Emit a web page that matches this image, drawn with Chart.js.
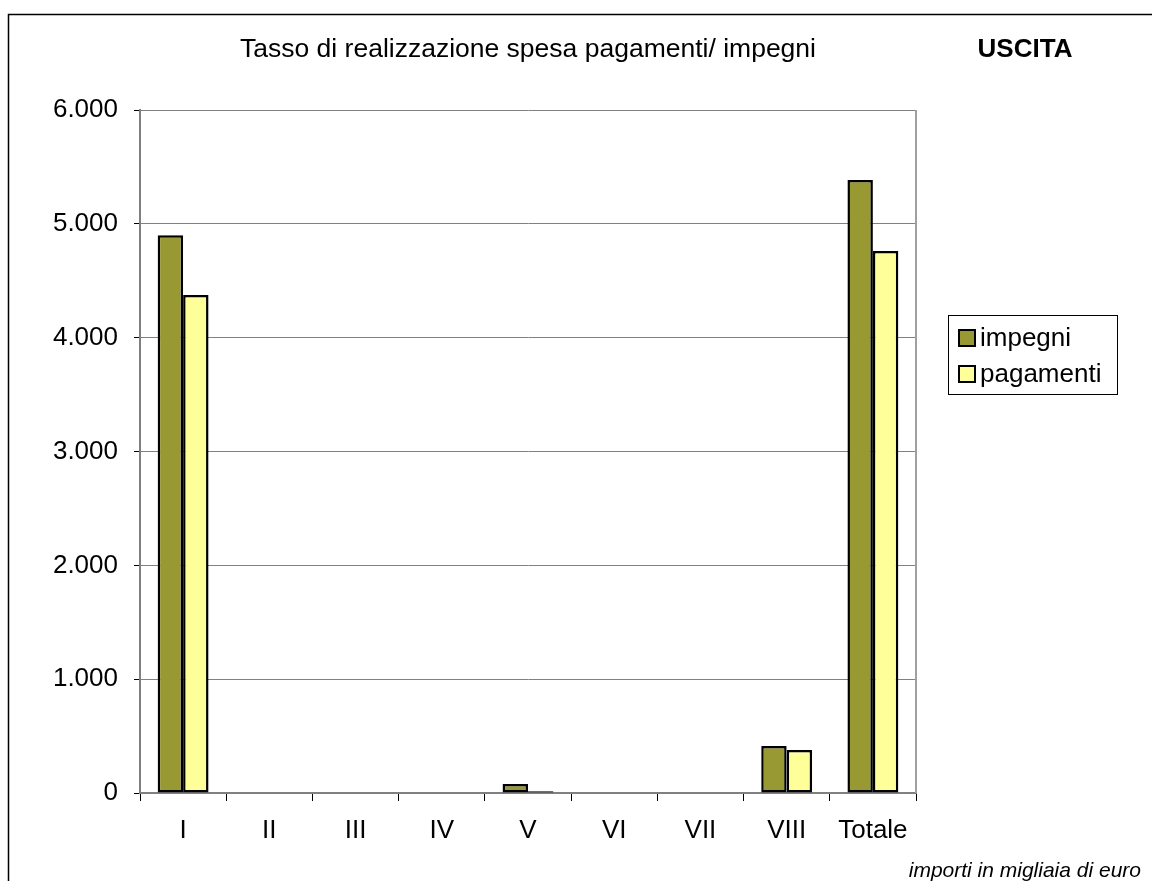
<!DOCTYPE html>
<html>
<head>
<meta charset="utf-8">
<script src="https://cdn.jsdelivr.net/npm/chart.js@4"></script>
<style>
html,body{margin:0;padding:0;background:#fff;}
#wrap{width:1152px;height:881px;position:relative;}
</style>
</head>
<body>
<div id="wrap"><canvas id="c" width="1152" height="881"></canvas></div>
<script>
const categories = ["I","II","III","IV","V","VI","VII","VIII","Totale"];
const impegni    = [4900, 0, 0, 0, 80, 0, 0, 413, 5385];
const pagamenti  = [4375, 0, 0, 0, 15, 0, 0, 378, 4761];
const yTicks     = [0, 1000, 2000, 3000, 4000, 5000, 6000];
const seriesNames = ["impegni", "pagamenti"];
const titleText = "Tasso di realizzazione spesa pagamenti/ impegni";
const sideText = "USCITA";
const noteText = "importi in migliaia di euro";

const FONT = "'Liberation Sans', Arial, sans-serif";

const decor = {
  id: 'decor',
  beforeDraw(chart) {
    const ctx = chart.ctx;
    ctx.save();
    ctx.fillStyle = '#fff';
    ctx.fillRect(0, 0, chart.width, chart.height);
    ctx.restore();
  },
  afterDraw(chart) {
    const ctx = chart.ctx;
    const a = chart.chartArea;
    ctx.save();
    // outer frame
    ctx.strokeStyle = '#000';
    ctx.lineWidth = 1.5;
    ctx.beginPath();
    ctx.moveTo(8.5, 890);
    ctx.lineTo(8.5, 14.5);
    ctx.lineTo(1160, 14.5);
    ctx.stroke();
    // plot right border
    ctx.strokeStyle = '#a0a0a0';
    ctx.lineWidth = 2;
    ctx.beginPath();
    ctx.moveTo(a.right, a.top);
    ctx.lineTo(a.right, a.bottom);
    ctx.stroke();
    // title
    ctx.fillStyle = '#000';
    ctx.textBaseline = 'middle';
    ctx.textAlign = 'center';
    ctx.font = "26.5px " + FONT;
    ctx.fillText(titleText, 528, 50);
    ctx.font = "bold 26px " + FONT;
    ctx.fillText(sideText, 1025, 50);
    // footnote
    ctx.font = "italic 21px " + FONT;
    ctx.textAlign = 'right';
    ctx.fillText(noteText, 1141, 871);
    // legend
    ctx.strokeStyle = '#000';
    ctx.lineWidth = 1;
    ctx.strokeRect(948.5, 315.5, 169, 79);
    ctx.font = "26px " + FONT;
    ctx.textAlign = 'left';
    chart.data.datasets.forEach((ds, i) => {
      const y = 338 + i * 36;
      ctx.fillStyle = ds.backgroundColor;
      ctx.fillRect(959, y - 8, 16, 16);
      ctx.lineWidth = 2;
      ctx.strokeStyle = '#000';
      ctx.strokeRect(959, y - 8, 16, 16);
      ctx.fillStyle = '#000';
      ctx.fillText(ds.label, 980, y + 1);
    });
    ctx.restore();
  }
};

new Chart(document.getElementById('c'), {
  type: 'bar',
  data: {
    labels: categories,
    datasets: [
      { label: seriesNames[0], data: impegni, backgroundColor: '#999933', borderColor: '#000', borderWidth: 2.5, borderSkipped: false },
      { label: seriesNames[1], data: pagamenti, backgroundColor: '#FFFF99', borderColor: '#000', borderWidth: 2.5, borderSkipped: false }
    ]
  },
  options: {
    responsive: false,
    animation: false,
    events: [],
    layout: { padding: { left: 0, top: 110, right: 236, bottom: 0 } },
    plugins: { legend: { display: false }, title: { display: false }, tooltip: { enabled: false } },
    datasets: { bar: { categoryPercentage: 0.59, barPercentage: 1.0 } },
    scales: {
      x: {
        offset: true,
        grid: { offset: true, drawOnChartArea: false, drawTicks: true, tickLength: 8, color: '#000', lineWidth: 1 },
        border: { display: true, color: '#808080', width: 2 },
        ticks: { color: '#000', font: { size: 26, family: FONT }, padding: 14 },
        afterFit(s) { s.height = 88; }
      },
      y: {
        min: 0, max: 6000,
        afterBuildTicks(s) { s.ticks = yTicks.map(v => ({ value: v })); },
        grid: { color: '#808080', lineWidth: 1, drawTicks: true, tickLength: 6, tickColor: '#000' },
        border: { display: true, color: '#808080', width: 2 },
        ticks: {
          color: '#000', font: { size: 26, family: FONT }, padding: 16,
          callback: v => v.toLocaleString('it-IT')
        },
        afterFit(s) { s.width = 140; }
      }
    }
  },
  plugins: [decor]
});
</script>
</body>
</html>
